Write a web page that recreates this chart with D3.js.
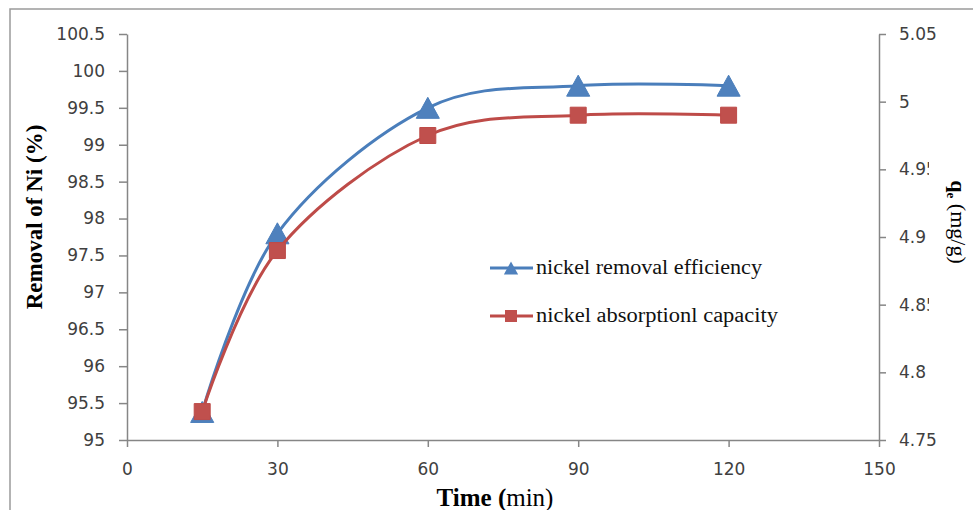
<!DOCTYPE html>
<html><head><meta charset="utf-8">
<script src="https://cdn.jsdelivr.net/npm/d3@7"></script>
<style>html,body{margin:0;padding:0;background:#fff;overflow:hidden}</style>
</head><body>
<svg id="c" width="973" height="510"></svg>
<script>
const times = [15, 30, 60, 90, 120];
const removal = [95.38, 97.8, 99.5, 99.8, 99.8];
const capacity = [4.771, 4.89, 4.975, 4.99, 4.99];
const xTicks = [0, 30, 60, 90, 120, 150];
const leftTicks = [95, 95.5, 96, 96.5, 97, 97.5, 98, 98.5, 99, 99.5, 100, 100.5];
const rightTicks = [4.75, 4.8, 4.85, 4.9, 4.95, 5, 5.05];
const seriesNames = ["nickel removal efficiency", "nickel absorptionl capacity"];

const svg = d3.select("#c");
const blueLine = "#4A7EBB", blueMark = "#4F81BD", redLine = "#BE4B48", redMark = "#C0504D";
const axisCol = "#868686", tickText = "#404040";

// outer frame
svg.append("rect").attr("x", 10).attr("y", 9).attr("width", 980).attr("height", 520)
  .attr("fill", "#fff").attr("stroke", "#9a9a9a").attr("stroke-width", 1.5);

const x = d3.scaleLinear().domain([0, 150]).range([127, 879]);
const yL = d3.scaleLinear().domain([95, 100.5]).range([440, 34]);
const yR = d3.scaleLinear().domain([4.75, 5.05]).range([440, 34]);

const fmt = d3.format("~g");
function styleAxis(g) {
  g.selectAll("path.domain").attr("stroke", axisCol).attr("stroke-width", 1.5);
  g.selectAll(".tick line").attr("stroke", axisCol).attr("stroke-width", 1.5);
  g.selectAll(".tick text").attr("fill", tickText).style("font-family", "DejaVu Sans")
    .style("font-size", "17px");
}
const gx = svg.append("g").attr("transform", "translate(0,440)")
  .call(d3.axisBottom(x).tickValues(xTicks).tickFormat(fmt).tickSize(7).tickSizeOuter(0).tickPadding(16));
styleAxis(gx);
const gl = svg.append("g").attr("transform", "translate(127,0)")
  .call(d3.axisLeft(yL).tickValues(leftTicks).tickFormat(fmt).tickSize(8).tickSizeOuter(0).tickPadding(14));
styleAxis(gl);
const gr = svg.append("g").attr("transform", "translate(879,0)")
  .call(d3.axisRight(yR).tickValues(rightTicks).tickFormat(fmt).tickSize(7).tickSizeOuter(0).tickPadding(13));
styleAxis(gr);

// lines
const curve = d3.curveCardinal.tension(0);
const lineL = d3.line().x((d, i) => x(times[i])).y(d => yL(d)).curve(curve);
const lineR = d3.line().x((d, i) => x(times[i])).y(d => yR(d)).curve(curve);

const tri = s => `M0,${-s/2} L${s*0.55},${s/2} L${-s*0.55},${s/2} Z`;
const sq = s => `M${-s/2},${-s/2} h${s} v${s} h${-s} Z`;

svg.append("path").datum(removal).attr("d", lineL).attr("fill", "none")
  .attr("stroke", blueLine).attr("stroke-width", 3);
svg.selectAll(".mb").data(removal).enter().append("path")
  .attr("transform", (d, i) => `translate(${x(times[i])},${yL(d)})`)
  .attr("d", tri(21)).attr("fill", blueMark).attr("stroke", blueLine).attr("stroke-width", 1);
svg.append("path").datum(capacity).attr("d", lineR).attr("fill", "none")
  .attr("stroke", redLine).attr("stroke-width", 3);
svg.selectAll(".mr").data(capacity).enter().append("path")
  .attr("transform", (d, i) => `translate(${x(times[i])},${yR(d)})`)
  .attr("d", sq(16)).attr("fill", redMark).attr("stroke", redLine).attr("stroke-width", 1);

// legend
const legY = [268, 316];
const legCols = [[blueLine, blueMark, tri(13)], [redLine, redMark, sq(12)]];
const legLens = [226, 242];
seriesNames.forEach((n, i) => {
  svg.append("line").attr("x1", 490).attr("x2", 533).attr("y1", legY[i]).attr("y2", legY[i])
    .attr("stroke", legCols[i][0]).attr("stroke-width", 3);
  svg.append("path").attr("transform", `translate(511,${legY[i]})`).attr("d", legCols[i][2])
    .attr("fill", legCols[i][1]);
  svg.append("text").attr("x", 536).attr("y", legY[i] + 6).text(n)
    .attr("textLength", legLens[i]).attr("lengthAdjust", "spacingAndGlyphs")
    .style("font-family", "Liberation Serif").style("font-size", "20px").attr("fill", "#111");
});

// left title
svg.append("text").attr("transform", "translate(42,217) rotate(-90)").attr("text-anchor", "middle")
  .style("font-family", "Liberation Serif").style("font-weight", "bold").style("font-size", "23px")
  .attr("fill", "#000").text("Removal of Ni (%)");

// right title (white box clips long tick labels like Excel)
svg.append("rect").attr("x", 929).attr("y", 150).attr("width", 40).attr("height", 175).attr("fill", "#fff");
const rt = svg.append("text").attr("transform", "translate(951,222) rotate(90)").attr("text-anchor", "middle")
  .style("font-family", "Liberation Serif").style("font-size", "22px").attr("fill", "#000");
rt.append("tspan").style("font-weight", "bold").text("q");
rt.append("tspan").style("font-weight", "bold").style("font-size", "13px").attr("dy", 4).text("e");
rt.append("tspan").attr("dy", -4).text(" (mg/g)");

// bottom title
const bt = svg.append("text").attr("x", 495).attr("y", 506).attr("text-anchor", "middle")
  .style("font-family", "Liberation Serif").style("font-size", "25px").attr("fill", "#000");
bt.append("tspan").style("font-weight", "bold").text("Time (");
bt.append("tspan").text("min)");
</script>
</body></html>
